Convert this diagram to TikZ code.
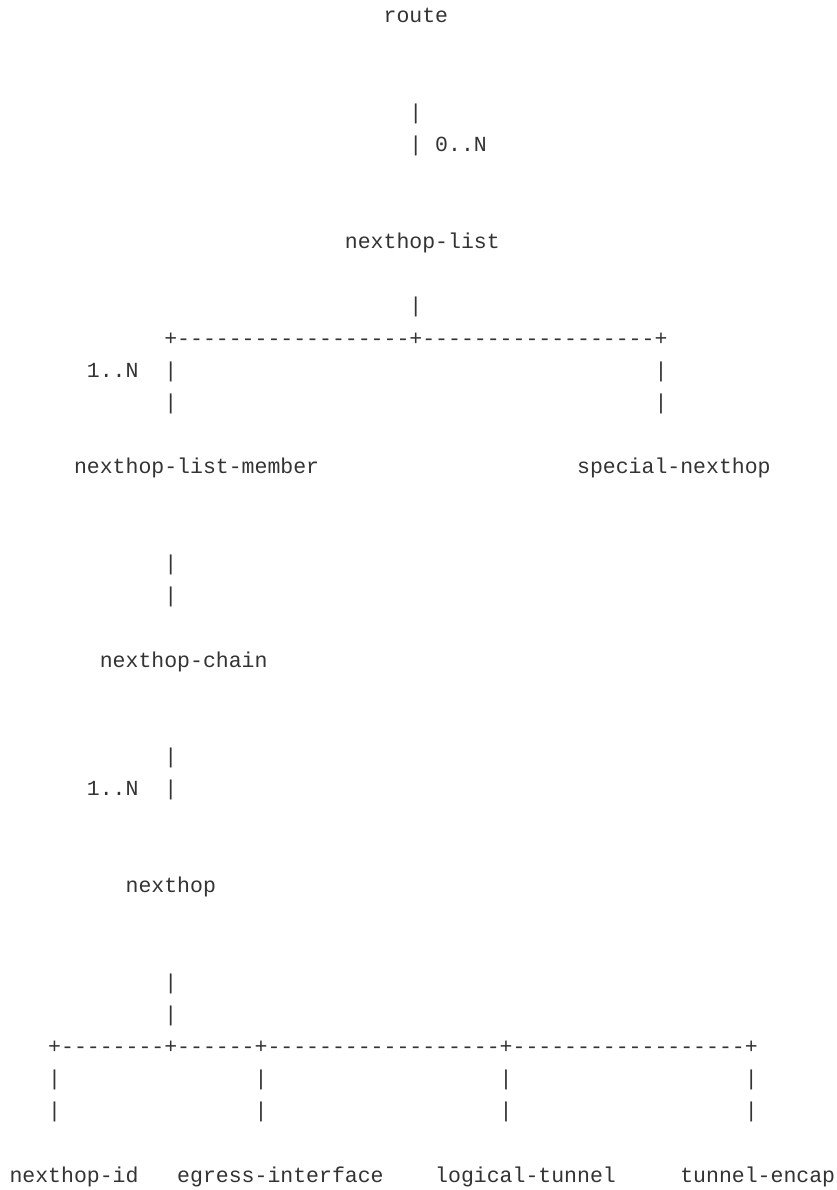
\documentclass[tikz,border=0pt]{standalone}
\usepackage{fontspec}
\setmonofont{Liberation Mono}
\definecolor{inkgray}{HTML}{333333}
\tikzset{
  asc/.style={font=\ttfamily\fontsize{21.5pt}{21.5pt}\selectfont, text=inkgray,
              inner sep=0pt, outer sep=0pt, anchor=base west},
  lbl/.style={asc},
  wire/.style={asc}
}
\begin{document}
\begin{tikzpicture}[x=12.9pt,y=-32.2pt]
\useasboundingbox (0pt,0pt) rectangle (836pt,-1190pt);
\begin{scope}[shift={(9.5pt,-23pt)}]
% route
\node[lbl] (route) at (29,0) {route};
\node[wire] (p3) at (31,3) {|};
\node[wire] (p4) at (31,4) {|};
\node[lbl] (card0N) at (33,4) {0..N};
% nexthop-list
\node[lbl] (nhlist) at (26,7) {nexthop-list};
\node[wire] (p9) at (31,9) {|};
\node[wire] (bar10) at (12,10) {+------------------+------------------+};
\node[lbl] (card1Na) at (6,11) {1..N};
\node[wire] (p11a) at (12,11) {|};
\node[wire] (p11b) at (50,11) {|};
\node[wire] (p12a) at (12,12) {|};
\node[wire] (p12b) at (50,12) {|};
\node[lbl] (member) at (5,14) {nexthop-list-member};
\node[lbl] (special) at (44,14) {special-nexthop};
% chain
\node[wire] (p17) at (12,17) {|};
\node[wire] (p18) at (12,18) {|};
\node[lbl] (chain) at (7,20) {nexthop-chain};
\node[wire] (p23) at (12,23) {|};
\node[lbl] (card1Nb) at (6,24) {1..N};
\node[wire] (p24) at (12,24) {|};
% nexthop
\node[lbl] (nexthop) at (9,27) {nexthop};
\node[wire] (p30) at (12,30) {|};
\node[wire] (p31) at (12,31) {|};
\node[wire] (bar32) at (3,32) {+--------+------+------------------+------------------+};
\foreach \c/\n in {3/a,19/b,38/c,57/d}{
  \node[wire] (p33\n) at (\c,33) {|};
  \node[wire] (p34\n) at (\c,34) {|};
}
% leaves
\node[lbl] (nhid) at (0,36) {nexthop-id};
\node[lbl] (egress) at (13,36) {egress-interface};
\node[lbl] (logical) at (33,36) {logical-tunnel};
\node[lbl] (encap) at (52,36) {tunnel-encap};
\end{scope}
\end{tikzpicture}
\end{document}
